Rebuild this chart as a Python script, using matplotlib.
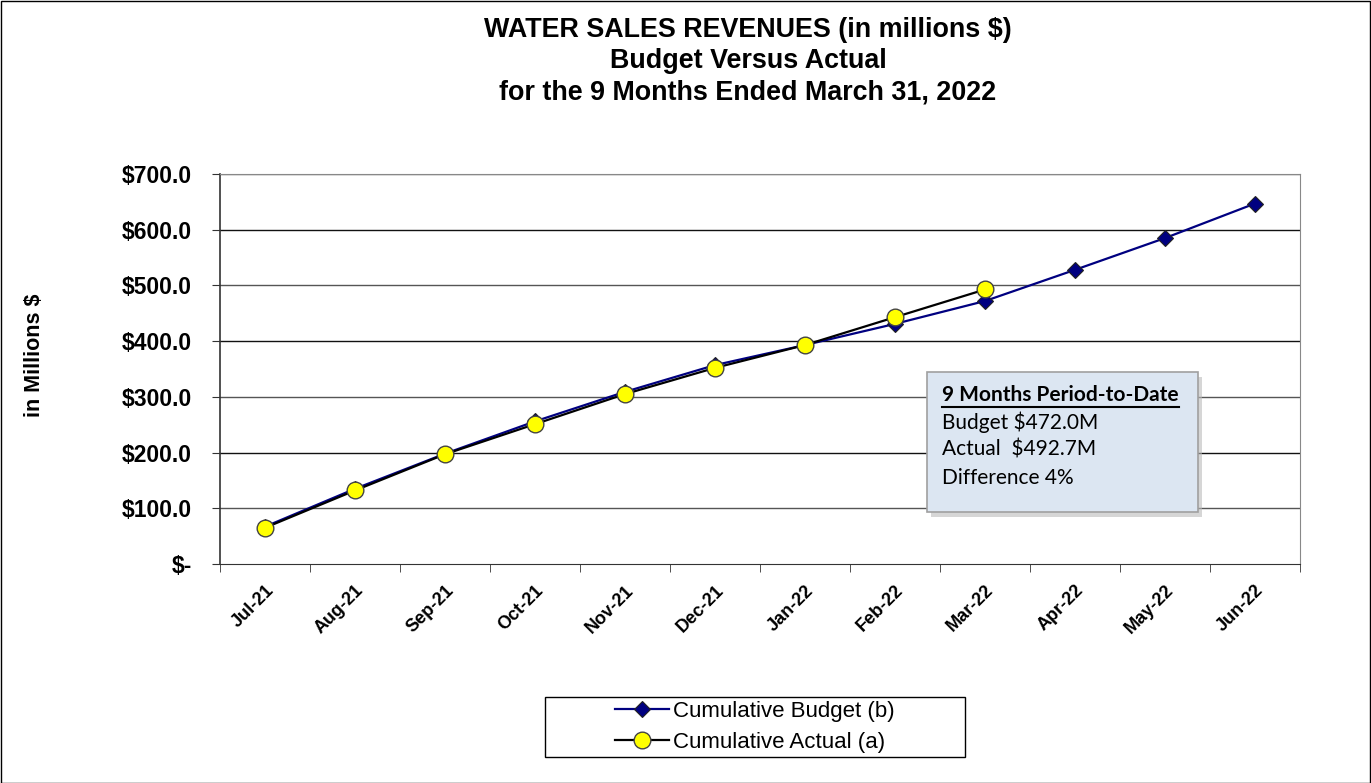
"""Water sales revenues: cumulative budget vs actual."""

import matplotlib
matplotlib.use("Agg")
import matplotlib.pyplot as plt
from matplotlib.lines import Line2D
from matplotlib.patches import Rectangle

months = ["Jul-21", "Aug-21", "Sep-21", "Oct-21", "Nov-21", "Dec-21",
          "Jan-22", "Feb-22", "Mar-22", "Apr-22", "May-22", "Jun-22"]
budget = [67.0, 135.0, 198.0, 256.0, 309.0, 357.0, 393.0, 431.0, 472.0, 528.0, 585.0, 647.0]
actual = [65.0, 132.0, 197.0, 251.0, 305.0, 352.0, 393.0, 443.0, 492.7]
y_ticks = [0, 100, 200, 300, 400, 500, 600, 700]
y_labels = ["$-", "$100.0", "$200.0", "$300.0", "$400.0", "$500.0", "$600.0", "$700.0"]

title_lines = ["WATER SALES REVENUES (in millions $)",
               "Budget Versus Actual",
               "for the 9 Months Ended March 31, 2022"]
box_title = "9 Months Period-to-Date"
box_lines = ["Budget $472.0M", "Actual  $492.7M", "Difference 4%"]

plt.rcParams["font.family"] = ["Liberation Sans", "DejaVu Sans"]

W, H = 1371, 783
fig = plt.figure(figsize=(W / 100, H / 100), dpi=100)
ax = fig.add_axes([220 / W, 1 - 564 / H, 1080 / W, 390 / H])

x = list(range(len(months)))
ax.plot(x, budget, color="#000080", linewidth=1.6, marker="D", markersize=8,
        markerfacecolor="#000080", markeredgecolor="#222222", markeredgewidth=0.8,
        label="Cumulative Budget (b)", zorder=3)
ax.plot(x[:len(actual)], actual, color="black", linewidth=1.6, marker="o", markersize=12,
        markerfacecolor="#FFFF00", markeredgecolor="#444444", markeredgewidth=1.0,
        label="Cumulative Actual (a)", zorder=4)

ax.set_xlim(-0.5, len(months) - 0.5)
ax.set_ylim(0, 700)
ax.set_yticks(y_ticks)
ax.set_yticklabels(y_labels, fontsize=16.5, fontweight="bold")
ax.set_xticks(x)
ax.set_xticklabels(months, rotation=45, ha="right", rotation_mode="anchor",
                   fontsize=13, fontweight="bold")
ax.tick_params(axis="x", length=0, pad=13)
ax.set_xticks([i - 0.5 for i in range(len(months) + 1)], minor=True)
ax.tick_params(axis="x", which="minor", length=6, direction="out", color="#333333")
ax.tick_params(axis="y", length=6, direction="out", color="#333333", pad=14)

for v in y_ticks[1:]:
    ax.axhline(v, color="#555555" if v % 200 else "#111111", linewidth=1.0, zorder=1)

for side in ["top", "right"]:
    ax.spines[side].set_color("#888888")
ax.spines["left"].set_color("#333333")
ax.spines["bottom"].set_color("#333333")
ax.spines["left"].set_linewidth(1.2)

fig.text(35 / W, 1 - 355 / H, "in Millions $", rotation=90, ha="center", va="center",
         fontsize=15.5, fontweight="bold")

for i, line in enumerate(title_lines):
    fig.text(748 / W, 1 - (30 + i * 31) / H, line, ha="center", va="center",
             fontsize=19.4, fontweight="bold")

# annotation box with shadow
bx0, by0, bx1, by1 = 927, 372, 1198, 512
fig.patches.append(Rectangle((bx0 / W + 4 / W, 1 - (by1 + 5) / H), (bx1 - bx0) / W, (by1 - by0) / H,
                             transform=fig.transFigure, facecolor="#BBBBBB", edgecolor="none",
                             alpha=0.6, zorder=5))
fig.patches.append(Rectangle((bx0 / W, 1 - by1 / H), (bx1 - bx0) / W, (by1 - by0) / H,
                             transform=fig.transFigure, facecolor="#DCE6F2", edgecolor="#A0A0A0",
                             linewidth=1.2, zorder=6))
t = fig.text(942 / W, 1 - 395 / H, box_title, ha="left", va="center", fontsize=15,
             fontweight="bold", family=["Lato", "DejaVu Sans"], zorder=7)
for i, line in enumerate(box_lines):
    fig.text(942 / W, 1 - (422 + i * 28) / H, line, ha="left", va="center", fontsize=15,
             family=["Lato", "DejaVu Sans"], zorder=7)

fig.canvas.draw()
bb = t.get_window_extent()
uy = 1 - 407 / H
fig.lines.append(Line2D([bb.x0 / W, bb.x1 / W], [uy, uy], transform=fig.transFigure,
                        color="black", linewidth=1.5, zorder=7))

# legend box drawn by hand so it can be wider than its entries
fig.patches.append(Rectangle((545 / W, 1 - 757 / H), 420 / W, 60 / H,
                             transform=fig.transFigure, facecolor="white",
                             edgecolor="black", linewidth=1.0))
fig.legend(loc="center", bbox_to_anchor=(755 / W, 1 - 727 / H), fontsize=16,
           frameon=False, handlelength=2.4, borderpad=0.2, labelspacing=0.45,
           handletextpad=0.2)

# outer chart border
fig.patches.append(Rectangle((0.5 / W, 0.5 / H), 1 - 1.5 / W, 1 - 1.5 / H,
                             transform=fig.transFigure, facecolor="none",
                             edgecolor="black", linewidth=1.0))

fig.savefig("out.png", dpi=100)
